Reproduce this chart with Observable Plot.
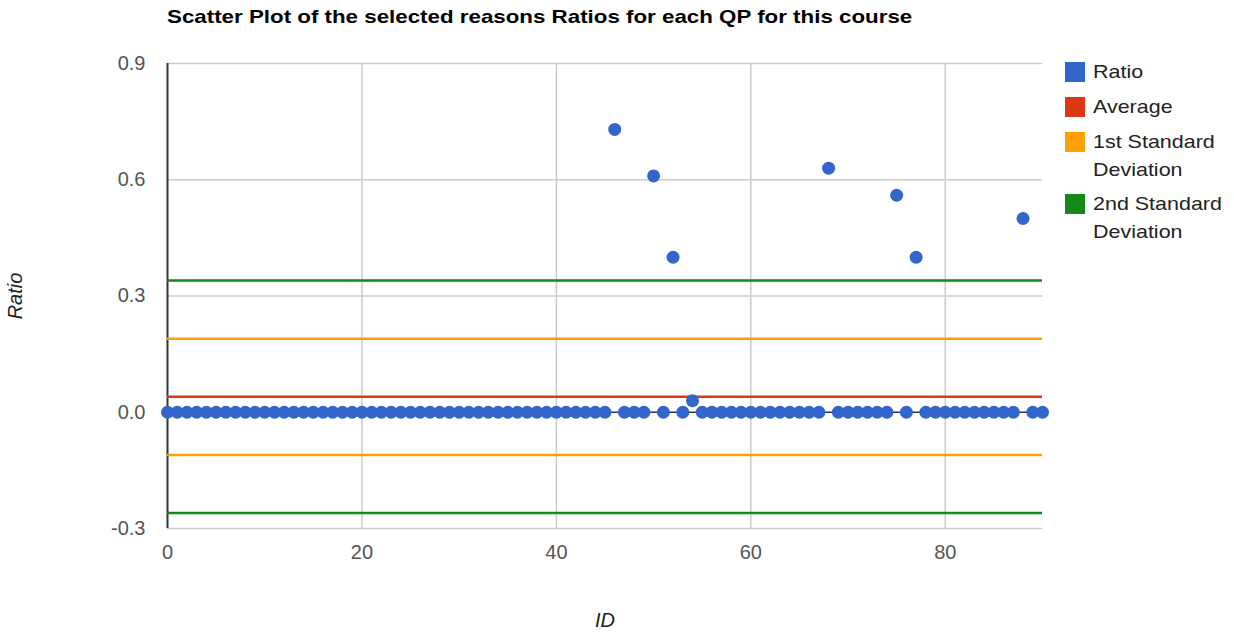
<!DOCTYPE html>
<html>
<head>
<meta charset="utf-8">
<script src="https://cdn.jsdelivr.net/npm/d3@7"></script>
<script src="https://cdn.jsdelivr.net/npm/@observablehq/plot@0.6"></script>
<style>
  html, body { margin: 0; padding: 0; background: #fff; }
  body { width: 1234px; height: 633px; position: relative; overflow: hidden; font-family: "Liberation Sans", Arial, sans-serif; }
  #title { position: absolute; left: 167px; top: 6px; font-size: 19px; font-weight: bold; color: #000; white-space: nowrap; transform: scaleX(1.175); transform-origin: left center; }
  #chart { position: absolute; left: 0; top: 35px; }
  .leg { position: absolute; left: 1065px; font-size: 19px; line-height: 28px; color: #222; }
  .leg .sw { position: absolute; left: 0; top: 4px; width: 20px; height: 20px; }
  .leg .tx { position: absolute; left: 28px; top: 0; white-space: nowrap; transform: scaleX(1.13); transform-origin: left center; }
</style>
</head>
<body>
<div id="title">Scatter Plot of the selected reasons Ratios for each QP for this course</div>
<div id="chart"></div>
<div id="legend"></div>
<script>
// Ratio per QP ID (ID = position in the list, 0..90)
const ratios = [
  0, 0, 0, 0, 0, 0, 0, 0, 0, 0,
  0, 0, 0, 0, 0, 0, 0, 0, 0, 0,
  0, 0, 0, 0, 0, 0, 0, 0, 0, 0,
  0, 0, 0, 0, 0, 0, 0, 0, 0, 0,
  0, 0, 0, 0, 0, 0, 0.73, 0, 0, 0,
  0.61, 0, 0.40, 0, 0.03, 0, 0, 0, 0, 0,
  0, 0, 0, 0, 0, 0, 0, 0, 0.63, 0,
  0, 0, 0, 0, 0, 0.56, 0, 0.40, 0, 0,
  0, 0, 0, 0, 0, 0, 0, 0, 0.50, 0,
  0
];
const average = [0.04];
const firstStdDev = [0.19, -0.11];
const secondStdDev = [0.34, -0.26];

const xTicks = [0, 20, 40, 60, 80];
const yTicks = [-0.3, 0, 0.3, 0.6, 0.9];
const yTickLabels = ["-0.3", "0.0", "0.3", "0.6", "0.9"];

const seriesNames = ["Ratio", "Average", "1st Standard\nDeviation", "2nd Standard\nDeviation"];
const seriesColors = ["#3366cc", "#dc3912", "#ff9f00", "#118a18"];

const points = ratios.map((r, i) => ({id: i, ratio: r}));

const chart = Plot.plot({
  width: 1234,
  height: 598,
  marginLeft: 167,
  marginRight: 192,
  marginTop: 28,
  marginBottom: 105,
  style: {fontFamily: "'Liberation Sans', Arial, sans-serif", fontSize: "20px", color: "#555", background: "#fff"},
  x: {domain: [0, 90], ticks: xTicks, tickFormat: d => String(d)},
  y: {domain: [-0.3, 0.9], ticks: yTicks, tickFormat: d => yTickLabels[yTicks.indexOf(d)]},
  marks: [
    Plot.gridX(xTicks.filter(d => d !== 0), {stroke: "#cccccc", strokeOpacity: 1, strokeWidth: 1.5}),
    Plot.gridY(yTicks.filter(d => d !== 0), {stroke: "#cccccc", strokeOpacity: 1, strokeWidth: 1.5}),
    Plot.axisX({ticks: xTicks, tickSize: 0, tickPadding: 16, label: null, fill: "#555", fontSize: 20, tickFormat: d => String(d)}),
    Plot.axisY({ticks: yTicks, tickSize: 0, tickPadding: 22, label: null, fill: "#555", fontSize: 20, tickFormat: d => yTickLabels[yTicks.indexOf(d)]}),
    Plot.ruleX([0], {stroke: "#333", strokeWidth: 2}),
    Plot.ruleY([0], {stroke: "#333", strokeWidth: 1.5}),
    Plot.ruleY(secondStdDev, {stroke: seriesColors[3], strokeWidth: 2.5}),
    Plot.ruleY(firstStdDev, {stroke: seriesColors[2], strokeWidth: 2.5}),
    Plot.ruleY(average, {stroke: seriesColors[1], strokeWidth: 2.5}),
    Plot.dot(points, {x: "id", y: "ratio", r: 6.5, fill: seriesColors[0], stroke: "none"}),
    Plot.text(["Ratio"], {frameAnchor: "left", dx: -152, rotate: -90, textAnchor: "middle", fontStyle: "italic", fill: "#222", fontSize: 20}),
    Plot.text(["ID"], {frameAnchor: "bottom", dy: 98, fontStyle: "italic", fill: "#222", fontSize: 20})
  ]
});
document.getElementById("chart").appendChild(chart);

// Legend
const legendTops = [58, 93, 128, 190];
const legend = document.getElementById("legend");
seriesNames.forEach((name, i) => {
  const item = document.createElement("div");
  item.className = "leg";
  item.style.top = legendTops[i] + "px";
  const sw = document.createElement("div");
  sw.className = "sw";
  sw.style.background = seriesColors[i];
  const tx = document.createElement("div");
  tx.className = "tx";
  tx.innerHTML = name.split("\n").join("<br>");
  item.appendChild(sw);
  item.appendChild(tx);
  legend.appendChild(item);
});
</script>
</body>
</html>
